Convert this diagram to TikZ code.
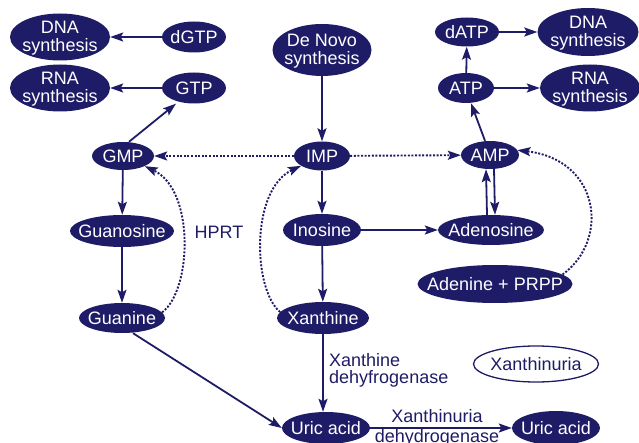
\documentclass[tikz,border=0pt]{standalone}
\usepackage{fontspec}
\setmainfont{Liberation Sans}
\usetikzlibrary{shapes.geometric,arrows.meta}
\definecolor{navy}{RGB}{30,28,102}
\newcommand{\onel}[1]{\makebox[0pt]{\raisebox{-0.36em}[0pt][0pt]{#1}}}
\newcommand{\twol}[2]{\makebox[0pt]{\raisebox{-0.33em}[0pt][0pt]{\begin{tabular}{@{}c@{}}#1\\#2\end{tabular}}}}
\tikzset{
  pn/.style={ellipse, fill=navy, draw=none, text=white, inner sep=0pt, font=\fontsize{18}{17}\selectfont},
  sz/.style 2 args={minimum width=#1pt, minimum height=#2pt},
  lbl/.style={text=navy, inner sep=0pt, font=\fontsize{18}{17}\selectfont},
  arr/.style={draw=navy, line width=1.8pt, -{Stealth[length=13pt,width=9pt,inset=2.5pt]}},
  dotarr/.style={arr, line width=1.9pt, dash pattern=on 2pt off 1.6pt}
}
\begin{document}
\begin{tikzpicture}[x=1pt,y=-1pt]
\useasboundingbox (0,0) rectangle (639,443);
\clip (0,0) rectangle (639,443);
% nodes
\node[pn, sz={100}{47}] (dnal) at (60,37) {\twol{DNA}{synthesis}};
\node[pn, sz={64}{31}] (dgtp) at (194,37) {\onel{dGTP}};
\node[pn, sz={100}{47}] (rnal) at (60,88) {\twol{RNA}{synthesis}};
\node[pn, sz={64}{31}] (gtp) at (194,88) {\onel{GTP}};
\node[pn, sz={99}{52}] (denovo) at (322,50) {\twol{De Novo}{synthesis}};
\node[pn, sz={62}{28}] (gmp) at (123,156) {\onel{GMP}};
\node[pn, sz={56}{29}] (imp) at (322,156) {\onel{IMP}};
\node[pn, sz={58}{28}] (amp) at (490,155) {\onel{AMP}};
\node[pn, sz={64}{29}] (datp) at (467,32) {\onel{dATP}};
\node[pn, sz={101}{48}] (dnar) at (588,32) {\twol{DNA}{synthesis}};
\node[pn, sz={56}{30}] (atp) at (466,88) {\onel{ATP}};
\node[pn, sz={100}{47}] (rnar) at (590,88) {\twol{RNA}{synthesis}};
\node[pn, sz={104}{32}] (guo) at (122,231) {\onel{Guanosine}};
\node[pn, sz={78}{32}] (ino) at (322,230) {\onel{Inosine}};
\node[pn, sz={106}{30}] (ado) at (491,230) {\onel{Adenosine}};
\node[pn, sz={155}{38}] (adp) at (495,284) {\onel{Adenine + PRPP}};
\node[pn, sz={86}{30}] (gua) at (122,318) {\onel{Guanine}};
\node[pn, sz={92}{32}] (xan) at (323,318) {\onel{Xanthine}};
\node[pn, sz={88}{32}] (uric1) at (326,428) {\onel{Uric acid}};
\node[pn, sz={88}{34}] (uric2) at (556,428) {\onel{Uric acid}};
\node[pn, sz={125}{36}, fill=white, draw=navy, line width=1.3pt, text=navy] (xu) at (536,364) {\onel{Xanthinuria}};
% labels
\node[lbl] (hprt) at (219,232) {HPRT};
\node[lbl, anchor=west, align=left] (xdh) at (329,370) {Xanthine\\dehyfrogenase};
\node[lbl] (lxu) at (437,416) {Xanthinuria};
\node[lbl] (ldh) at (437,438) {dehydrogenase};
% connectors
\draw[arr] (dgtp) -- (dnal);
\draw[arr] (gtp) -- (rnal);
\draw[arr] ([xshift=6pt]gmp.north) -- ([xshift=-18pt]gtp.south);
\draw[dotarr] (imp) -- (gmp);
\draw[dotarr] (imp) -- (amp);
\draw[arr] (denovo) -- (imp);
\draw[arr] (gmp) -- (guo);
\draw[arr] (guo) -- (gua);
\draw[dotarr] (gua.8) .. controls (192,290) and (195,190) .. (gmp.-25);
\draw[dotarr] (xan.172) .. controls (253,290) and (250,190) .. (imp.205);
\draw[arr] (imp) -- (ino);
\draw[arr] (ino) -- (ado);
\draw[arr] (ino) -- (xan);
\draw[arr] ([xshift=-4pt]ado.north) -- ([xshift=-4pt]amp.south);
\draw[arr] ([xshift=4pt]amp.south) -- ([xshift=4pt]ado.north);
\draw[dotarr] (adp.8) .. controls (610,240) and (600,160) .. (amp.10);
\draw[arr] ([xshift=-5pt]amp.north) -- ([xshift=5pt]atp.south);
\draw[arr] (atp) -- (datp);
\draw[arr] (datp) -- (dnar);
\draw[arr] (atp) -- (rnar);
\draw[arr] (xan.south) -- (xan.south |- uric1.north);
\draw[arr] ([xshift=11pt]gua.south) -- (uric1.west);
\draw[arr] (uric1) -- (uric2);
\end{tikzpicture}
\end{document}
